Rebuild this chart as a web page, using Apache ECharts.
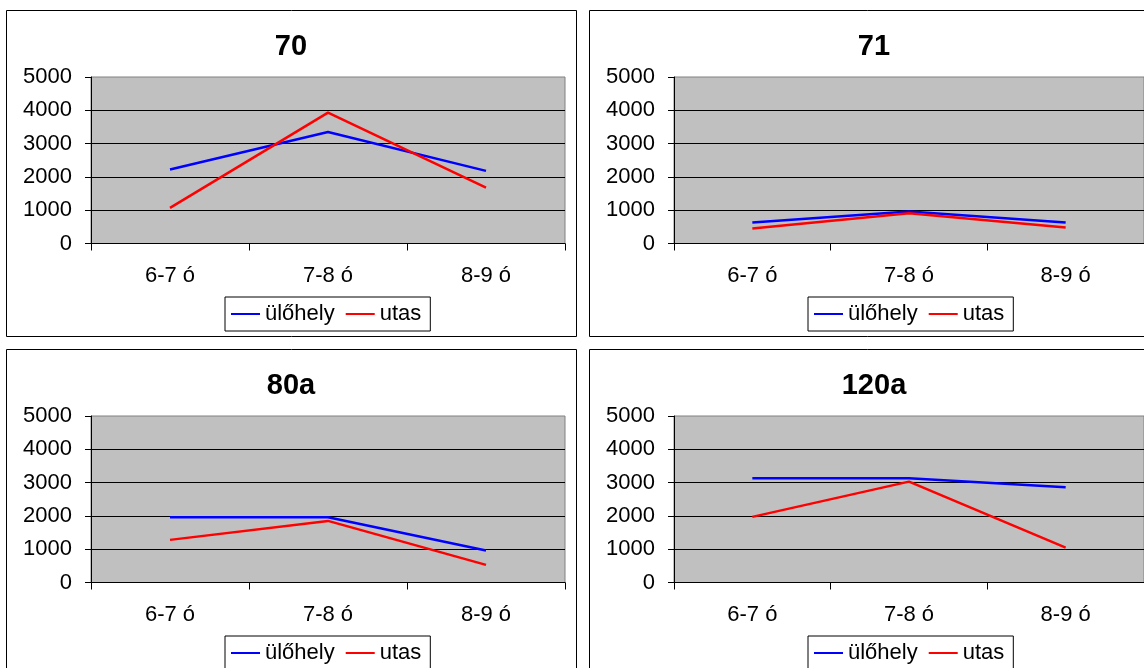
<!DOCTYPE html>
<html>
<head>
<meta charset="utf-8">
<script src="https://cdn.jsdelivr.net/npm/echarts@6/dist/echarts.min.js"></script>
<style>
html,body{margin:0;padding:0;background:#fff;}
#c{width:1144px;height:668px;}
</style>
</head>
<body>
<div id="c"></div>
<script>
var categories = ['6-7 ó', '7-8 ó', '8-9 ó'];
var chartTitles = ['70', '71', '80a', '120a'];
var seriesNames = ['ülőhely', 'utas'];
var seats70 = [2220, 3350, 2180];
var pass70 = [1070, 3930, 1680];
var seats71 = [630, 960, 630];
var pass71 = [450, 910, 480];
var seats80a = [1960, 1960, 960];
var pass80a = [1280, 1850, 530];
var seats120a = [3130, 3130, 2860];
var pass120a = [1970, 3030, 1050];
var yMin = 0, yMax = 5000, yStep = 1000;

var seatData = [seats70, seats71, seats80a, seats120a];
var passData = [pass70, pass71, pass80a, pass120a];

var FONT = '"Liberation Sans", Arial, sans-serif';
var colX = [6, 589];
var rowY = [10, 349];
var boxW = 570, boxH = 326;
var plotDX = 85, plotDY = 67, plotW = 474, plotH = 166.5;

var titles = [], grids = [], xAxes = [], yAxes = [], legends = [], series = [], graphics = [];

for (var i = 0; i < 4; i++) {
  var bx = colX[i % 2], by = rowY[Math.floor(i / 2)];
  graphics.push({
    type: 'rect', z: -10,
    shape: {x: bx + 0.5, y: by + 0.5, width: boxW, height: boxH},
    style: {fill: '#ffffff', stroke: '#000000', lineWidth: 1}
  });
  var gl = bx + plotDX, gt = by + plotDY;
  titles.push({
    text: chartTitles[i], left: bx + boxW / 2, top: by + 22, textAlign: 'center', padding: 0,
    textStyle: {fontFamily: FONT, fontSize: 29, fontWeight: 'bold', color: '#000'}
  });
  grids.push({
    left: gl, top: gt, width: plotW, height: plotH, show: true,
    backgroundColor: '#C0C0C0', borderColor: '#808080', borderWidth: 1
  });
  xAxes.push({
    type: 'category', gridIndex: i, data: categories, boundaryGap: true,
    axisLine: {show: true, lineStyle: {color: '#000', width: 1}},
    axisTick: {show: true, length: 7, inside: false, alignWithLabel: false, lineStyle: {color: '#000'}},
    axisLabel: {margin: 21, fontFamily: FONT, fontSize: 22, color: '#000'},
    splitLine: {show: false}
  });
  yAxes.push({
    type: 'value', gridIndex: i, min: yMin, max: yMax, interval: yStep,
    axisLine: {show: true, lineStyle: {color: '#000', width: 1}},
    axisTick: {show: true, length: 6, lineStyle: {color: '#000'}},
    axisLabel: {margin: 19, fontFamily: FONT, fontSize: 22, color: '#000',
      formatter: function (v) { return String(v); }},
    splitLine: {show: true, showMaxLine: false, lineStyle: {color: '#000', width: 1}}
  });
  legends.push({
    data: seriesNames, left: bx + 219, top: by + 287,
    orient: 'horizontal', icon: 'rect', itemWidth: 29, itemHeight: 2, itemGap: 11,
    padding: [6, 9, 6, 6], borderColor: '#000', borderWidth: 1, backgroundColor: '#fff',
    textStyle: {fontFamily: FONT, fontSize: 22, color: '#000'},
    selectedMode: false
  });
  series.push({
    name: seriesNames[0], type: 'line', xAxisIndex: i, yAxisIndex: i, data: seatData[i],
    symbol: 'none', color: '#0000FF', lineStyle: {color: '#0000FF', width: 2.5}, animation: false
  });
  series.push({
    name: seriesNames[1], type: 'line', xAxisIndex: i, yAxisIndex: i, data: passData[i],
    symbol: 'none', color: '#FF0000', lineStyle: {color: '#FF0000', width: 2.5}, animation: false
  });
}

var chart = echarts.init(document.getElementById('c'), null, {renderer: 'canvas'});
chart.setOption({
  backgroundColor: '#ffffff',
  animation: false,
  title: titles, grid: grids, xAxis: xAxes, yAxis: yAxes, legend: legends,
  series: series, graphic: graphics
});
</script>
</body>
</html>
